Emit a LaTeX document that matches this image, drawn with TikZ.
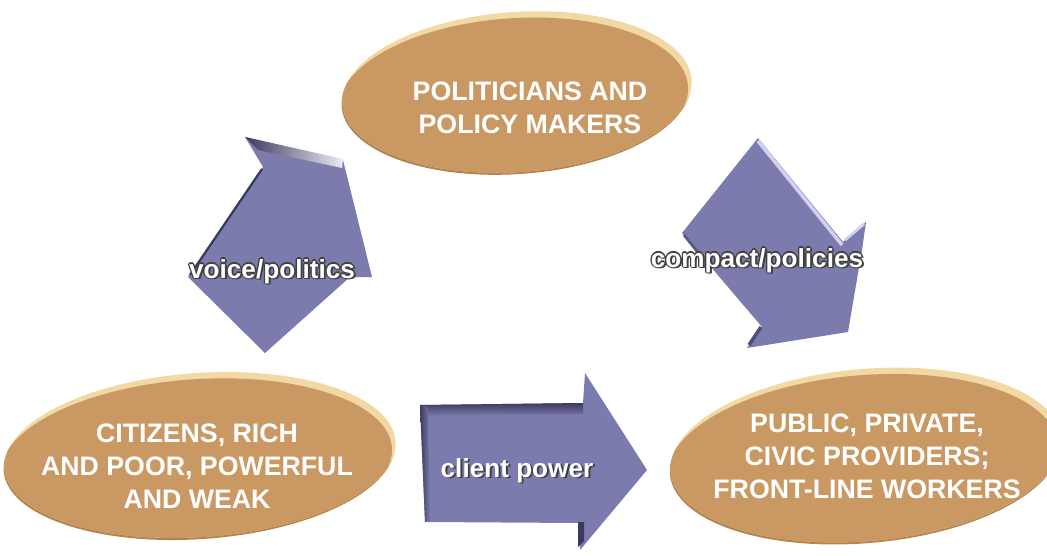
\documentclass[tikz,border=0pt]{standalone}
\usepackage{fontspec}
\setmainfont{Liberation Sans}
\definecolor{ovalfill}{HTML}{CA9863}
\definecolor{ovallight}{HTML}{F2D8A2}
\definecolor{ovalrim}{HTML}{B4844E}
\definecolor{arrowblue}{HTML}{7B7BAD}
\definecolor{arrowdark}{HTML}{3A3A60}
\definecolor{arrowlight}{HTML}{D2D2EE}
\tikzset{
  ovaltext/.style={text=white, font=\fontsize{19}{23.4}\selectfont\bfseries, align=center, inner sep=0pt},
  arrowbody/.style={fill=arrowblue},
  arrowlabel/.style={font=\fontsize{18.6}{22}\selectfont\bfseries, anchor=base, inner sep=0pt, text=white},
}
\newcommand\ovaldisc[5]{%
  \begin{scope}[shift={(#1,#2)},rotate=#5]
    \fill[ovalrim] (-1,-2) ellipse [x radius=#3, y radius=#4];
    \fill[ovallight] (0,0) ellipse [x radius=#3, y radius=#4];
    \begin{scope}
      \clip (0,0) ellipse [x radius=#3, y radius=#4];
      \fill[ovalfill] (-4,-6) ellipse [x radius=#3, y radius=#4];
    \end{scope}
  \end{scope}}
\newcommand\olay[3]{\rlap{\kern#1\raisebox{#2}{\color{black!75}#3}}}
\newcommand\outlinedtext[1]{%
  \olay{-0.9pt}{0pt}{#1}\olay{0.9pt}{0pt}{#1}\olay{0pt}{0.9pt}{#1}\olay{0pt}{-0.9pt}{#1}%
  \olay{-0.7pt}{0.7pt}{#1}\olay{0.7pt}{0.7pt}{#1}\olay{-0.7pt}{-0.7pt}{#1}\olay{0.7pt}{-0.7pt}{#1}%
  \olay{1.4pt}{-1.4pt}{#1}{\color{white}#1}}
\newcommand\shadowtext[1]{\olay{1.4pt}{-1.1pt}{#1}{\color{white}#1}}
\begin{document}
\begin{tikzpicture}[x=0.025cm,y=0.025cm]
\useasboundingbox (0,0) rectangle (1047,555);

% ovals
\ovaldisc{517}{463}{175}{80}{4}
\ovaldisc{200}{100}{196}{82}{4}
\ovaldisc{866}{100}{196}{86}{5}

% voice/politics arrow
\fill[arrowbody] (245,418) -- (343,395) -- (372,278) -- (350,278) -- (265,202) -- (188,278) -- (263,388) -- cycle;
\shade[left color=arrowdark, right color=white!85!arrowblue] (245,418) -- (343,396) -- (342,387) -- (258,405) -- cycle;
\draw[arrowdark, line width=1.6pt] (190,280) -- (262,386);

% compact/policies arrow
\fill[arrowbody] (758,417) -- (843,313) -- (866,333) -- (862,305) -- (848,223) -- (747,207) -- (762,228) -- (682,322) -- cycle;
\draw[arrowlight, line width=2.5pt] (758,414) -- (842,310);
\draw[arrowlight, line width=2pt] (845,315) -- (864,331);
\draw[arrowdark!70!arrowblue, line width=2.5pt] (749,210) -- (761,228);
\draw[arrowdark!50!arrowblue, line width=2pt] (684,320) -- (700,300);

% client power arrow
\fill[arrowbody] (420,150) -- (583,152) -- (585,182) -- (647,85) -- (580,5) -- (580,32) -- (425,33) -- cycle;
\shade[top color=arrowdark, bottom color=arrowblue] (421,150) -- (583,152) -- (583,141) -- (421,139) -- cycle;
\shade[left color=arrowdark, right color=arrowblue] (420,150) -- (428,148) -- (430,35) -- (425,33) -- cycle;
\fill[arrowdark] (578,8) -- (584,14) -- (584,33) -- (578,33) -- cycle;

% oval texts
\node[ovaltext] (politicians) at (530,447) {POLITICIANS AND\\POLICY MAKERS};
\node[ovaltext] (citizens) at (197,89) {CITIZENS, RICH\\AND POOR, POWERFUL\\AND WEAK};
\node[ovaltext] (providers) at (867,99) {PUBLIC, PRIVATE,\\CIVIC PROVIDERS;\\FRONT-LINE WORKERS};

% arrow labels
\node[arrowlabel] (voice) at (272,277) {\outlinedtext{voice/politics}};
\node[arrowlabel] (compact) at (757,288) {\outlinedtext{compact/policies}};
\node[arrowlabel] (client) at (517,78) {\shadowtext{client power}};
\end{tikzpicture}
\end{document}
